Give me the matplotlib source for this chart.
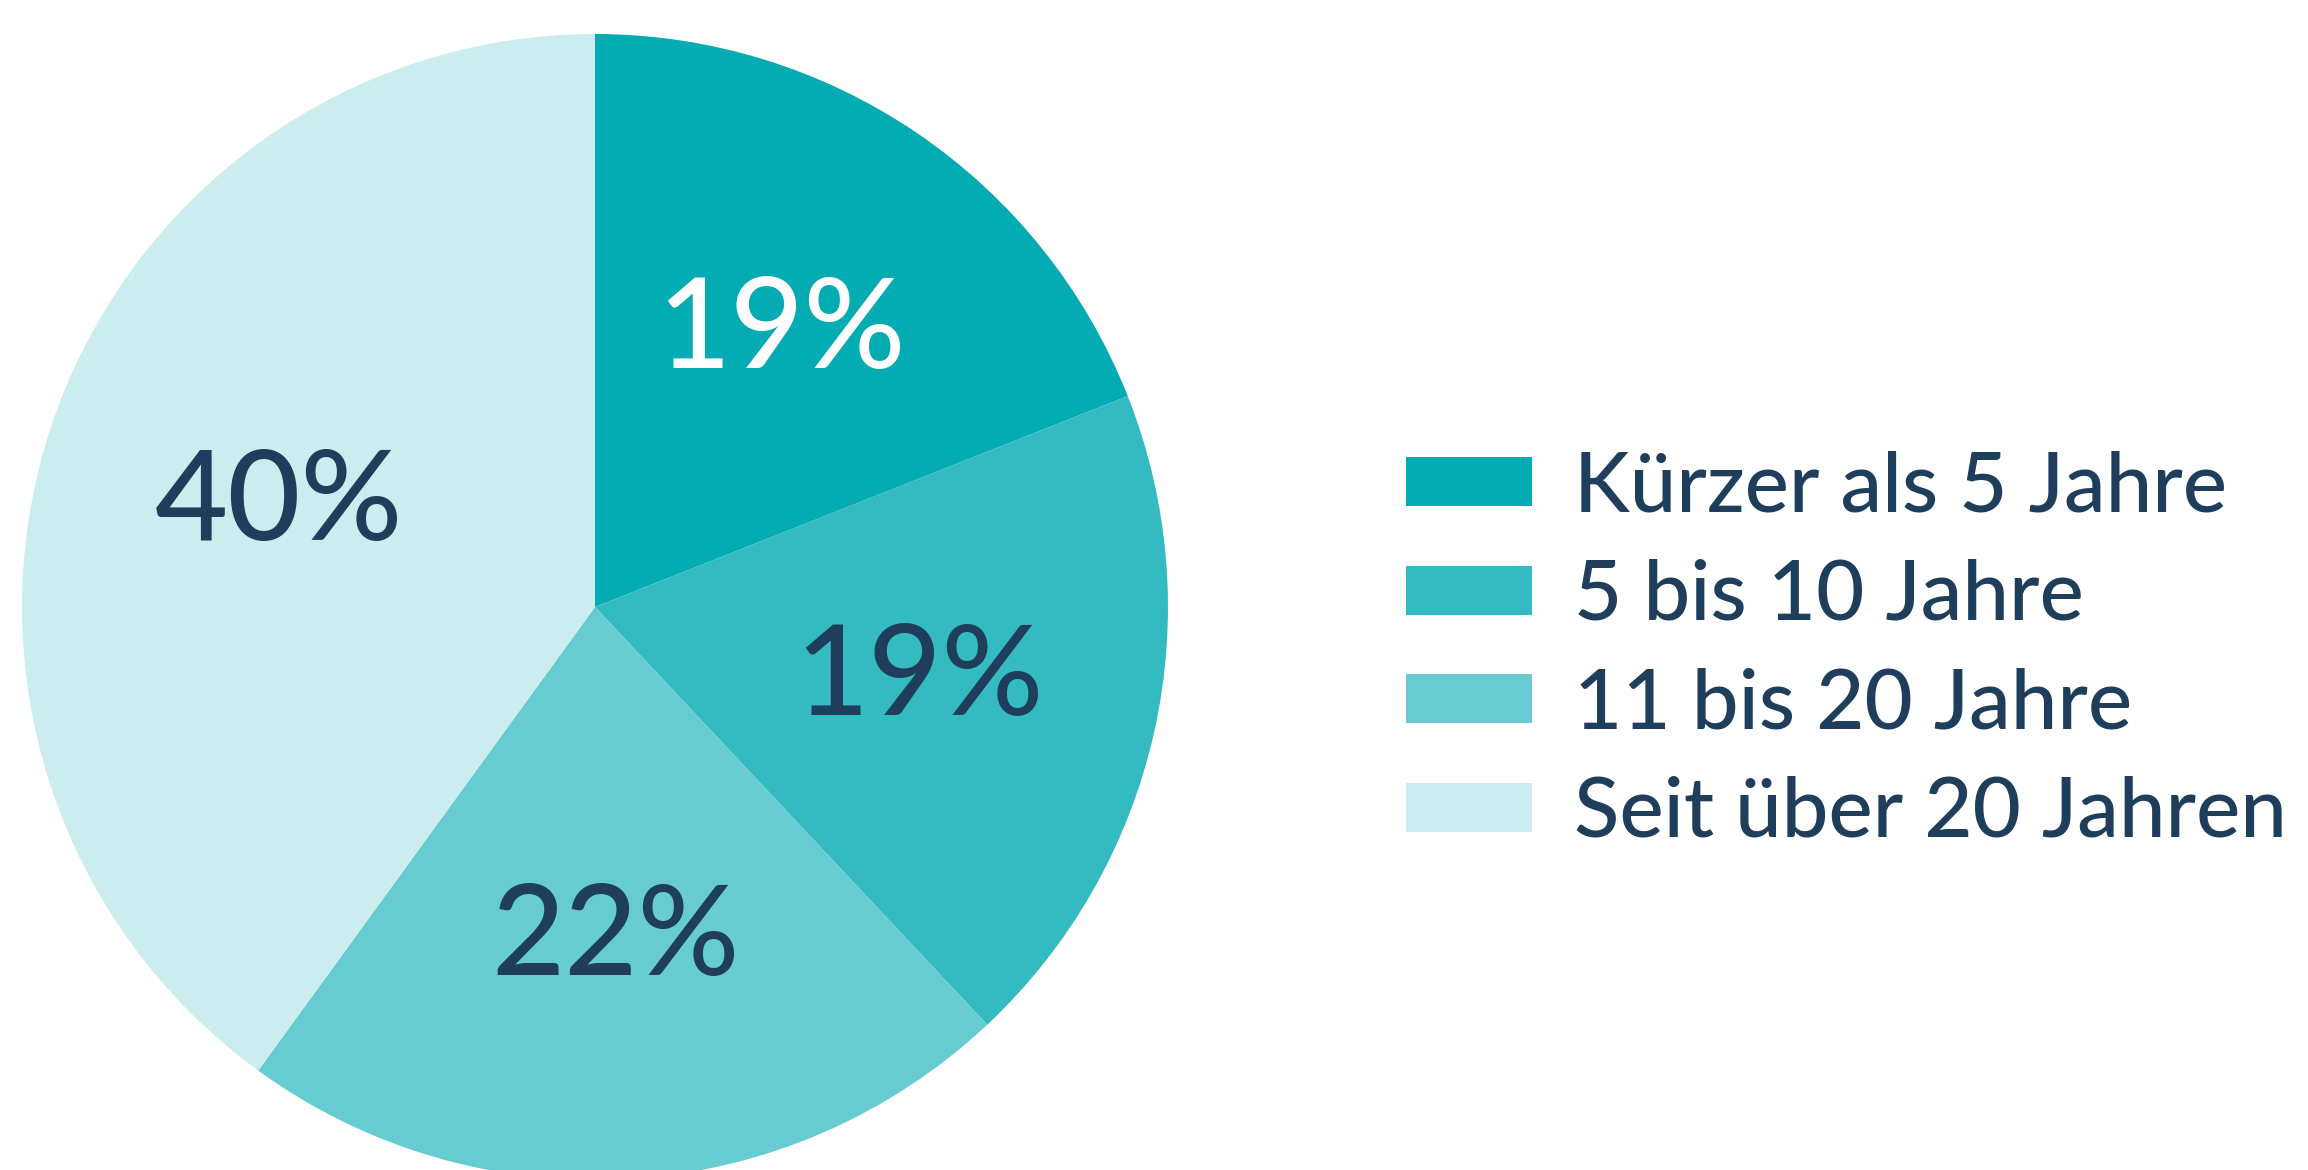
import matplotlib
matplotlib.use("Agg")
import matplotlib.pyplot as plt

categories = ["Kürzer als 5 Jahre", "5 bis 10 Jahre", "11 bis 20 Jahre", "Seit über 20 Jahren"]
values = [19, 19, 22, 40]
colors = ["#03ABB3", "#34BBC2", "#67CCD2", "#CCEDEF"]
label_colors = ["white", "#1F3E5C", "#1F3E5C", "#1F3E5C"]

plt.rcParams['font.family'] = ['Lato', 'DejaVu Sans']
W, H = 2308, 1170
fig = plt.figure(figsize=(W / 100, H / 100), dpi=100)
ax = fig.add_axes([0, 0, 1, 1])

wedges, texts, autotexts = ax.pie(
    values, colors=colors, startangle=90, counterclock=False,
    center=(595, H - 607), radius=573, frame=True,
    autopct=lambda p: f"{p:.0f}%", pctdistance=0.58,
    textprops=dict(fontsize=91, color="#1F3E5C", fontweight="medium"),
)
for t, c in zip(autotexts, label_colors):
    t.set_color(c)

ax.set_xlim(0, W)
ax.set_ylim(0, H)
ax.set_aspect("equal")
ax.axis("off")

leg = ax.legend(wedges, categories, loc="center left",
                bbox_to_anchor=(1406 / W, 1 - 651 / H),
                frameon=False, prop=dict(size=60, weight="medium"),
                labelcolor="#1F3E5C",
                handlelength=1.51, handleheight=0.53, handletextpad=0.5,
                labelspacing=0.39, borderpad=0, borderaxespad=0)

fig.savefig("out.png", dpi=100)
